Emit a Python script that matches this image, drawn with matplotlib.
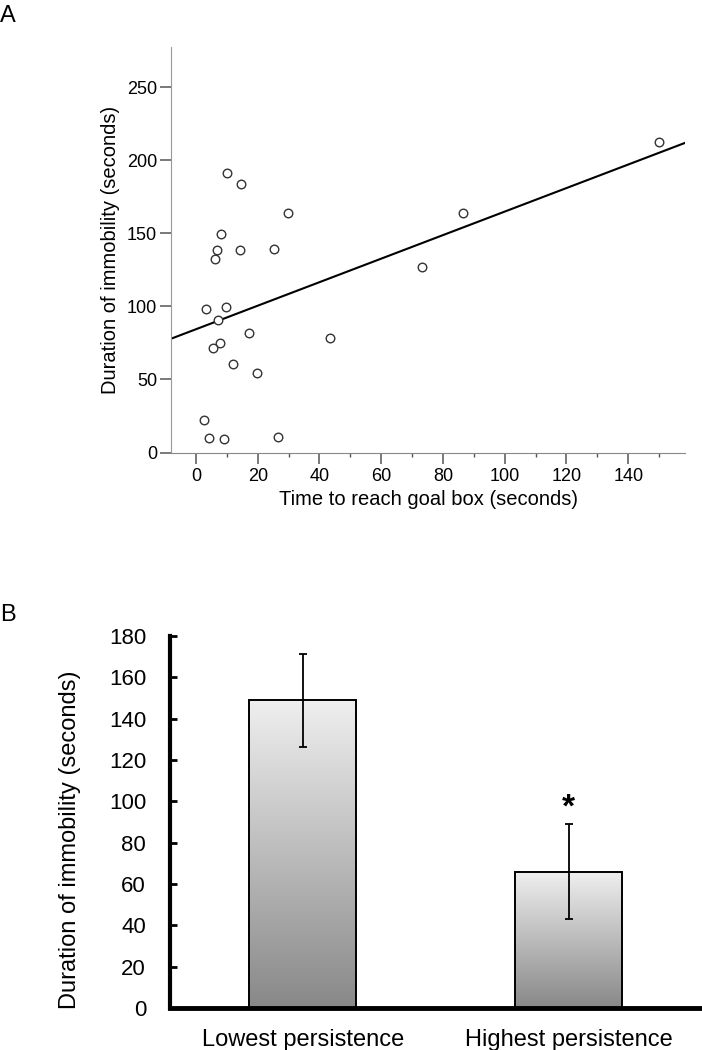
import numpy as np
import matplotlib
matplotlib.use('Agg')
import matplotlib.pyplot as plt
from matplotlib.colors import LinearSegmentedColormap

plt.rcParams['font.family'] = ['Liberation Sans', 'DejaVu Sans']

# panel A data
goal_time = [150.1, 10.0, 14.5, 29.7, 86.6, 8.2, 6.9, 6.2, 14.3, 25.4, 73.1, 3.2,
             9.7, 7.2, 17.3, 43.3, 7.9, 5.5, 11.9, 19.8, 2.6, 4.3, 9.0, 26.5]
immobility = [212.6, 191.5, 183.7, 164.1, 164.1, 149.6, 138.7, 132.3, 138.4, 139.1, 127.0, 98.1,
              99.9, 90.8, 82.0, 78.3, 74.7, 71.7, 60.3, 54.4, 22.3, 10.2, 9.6, 10.9]
fit_intercept = 84.4
fit_slope = 0.805

# panel B data
groups = ['Lowest persistence', 'Highest persistence']
means = [149, 66]
errors = [22.5, 23]

fig = plt.figure(figsize=(7.02, 10.5), dpi=100)

# ---- A ----
ax1 = fig.add_axes([0.2436, 0.569, 0.7322, 0.3862])
ax1.scatter(goal_time, immobility, s=38, facecolors='white', edgecolors='#333333',
            linewidths=1.0, zorder=3)
xlim = (-8.1, 158.4)
xs = np.array(xlim)
ax1.plot(xs, fit_intercept + fit_slope * xs, color='black', lw=1.5, zorder=2)
ax1.set_xlim(xlim)
ax1.set_ylim(0, 277.5)
ax1.set_xticks(np.arange(0, 141, 20))
ax1.set_xticks(np.arange(10, 151, 20), minor=True)
ax1.set_yticks(np.arange(0, 251, 50))
for s in ['top', 'right']:
    ax1.spines[s].set_visible(False)
ax1.spines['left'].set_color('#999999')
ax1.spines['bottom'].set_color('#888888')
ax1.tick_params(axis='x', which='major', length=8, width=1.1, color='#555555',
                labelsize=13, pad=3)
ax1.tick_params(axis='x', which='minor', length=3, width=1.0, color='#555555')
ax1.tick_params(axis='y', length=8, width=1.1, color='#555555', labelsize=13, pad=2)
ax1.set_xlabel('Time to reach goal box (seconds)', fontsize=14.5, labelpad=4)
ax1.set_ylabel('Duration of immobility (seconds)', fontsize=14.5, labelpad=5)
fig.text(0.0, 0.995, 'A', fontsize=17, va='top', ha='left')

# ---- B ----
ax2 = fig.add_axes([0.2417, 0.04, 0.7583, 0.3543])
x = np.arange(len(groups))
bars = ax2.bar(x, means, width=0.402, color='none', edgecolor='black', linewidth=1.4, zorder=3)
cmap = LinearSegmentedColormap.from_list('g', ['#888888', '#efefef'])
grad = np.linspace(0, 1, 256).reshape(-1, 1)
for b in bars:
    x0, w, h = b.get_x(), b.get_width(), b.get_height()
    im = ax2.imshow(grad, extent=[x0, x0 + w, 0, h], origin='lower', cmap=cmap,
                    aspect='auto', zorder=2)
    im.set_clip_path(b)
ax2.errorbar(x, means, yerr=errors, fmt='none', ecolor='black', elinewidth=1.3,
             capsize=3, capthick=1.3, zorder=4)
ax2.text(x[1], means[1] + errors[1], '*', ha='center', va='bottom',
         fontsize=24, fontweight='bold')
ax2.set_xlim(-0.5, 1.5)
ax2.set_ylim(0, 180)
ax2.set_yticks(np.arange(0, 181, 20))
ax2.set_xticks(x)
ax2.set_xticklabels(groups)
for s in ['top', 'right']:
    ax2.spines[s].set_visible(False)
ax2.spines['left'].set_linewidth(3)
ax2.spines['bottom'].set_linewidth(3.5)
ax2.tick_params(axis='y', direction='in', length=5, width=2, labelsize=16, pad=17)
ax2.tick_params(axis='x', length=0, labelsize=17, pad=15)
ax2.set_ylabel('Duration of immobility (seconds)', fontsize=17)
ax2.yaxis.set_label_coords(-0.167, 0.452)
fig.text(0.0, 0.425, 'B', fontsize=17, va='top', ha='left')

fig.savefig('out.png', dpi=100)
